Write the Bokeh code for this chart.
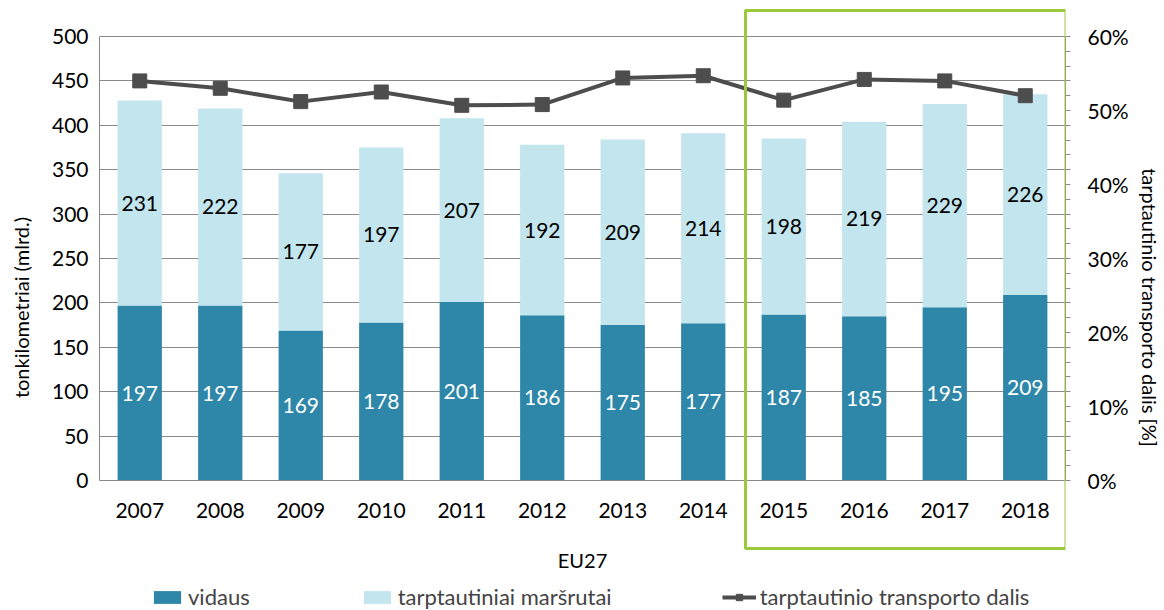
from bokeh.plotting import figure
from bokeh.models import (ColumnDataSource, Range1d, FactorRange, LinearAxis, FixedTicker,
                          PrintfTickFormatter, LabelSet, BoxAnnotation, Legend, LegendItem)
from bokeh.core.properties import value
from bokeh.embed import file_html
from bokeh.resources import INLINE

# ---- data ----
years = ["2007", "2008", "2009", "2010", "2011", "2012",
         "2013", "2014", "2015", "2016", "2017", "2018"]
vidaus = [197, 197, 169, 178, 201, 186, 175, 177, 187, 185, 195, 209]
tarptautiniai = [231, 222, 177, 197, 207, 192, 209, 214, 198, 219, 229, 226]
dalis = [54.0, 53.0, 51.2, 52.5, 50.7, 50.8, 54.4, 54.7, 51.4, 54.2, 54.0, 52.0]
left_ticks = [0, 50, 100, 150, 200, 250, 300, 350, 400, 450, 500]
right_ticks = [0, 10, 20, 30, 40, 50, 60]
right_minor = [2, 4, 6, 8, 12, 14, 16, 18, 22, 24, 26, 28, 32, 34, 36, 38,
               42, 44, 46, 48, 52, 54, 56, 58]
x_label = "EU27"
y_label = "tonkilometriai (mlrd.)"
y2_label = "tarptautinio transporto dalis [%]"
names = ["vidaus", "tarptautiniai maršrutai", "tarptautinio transporto dalis"]

# ---- layout / style ----
FONT = "Lato"
DARK = "#2E87A8"
LIGHT = "#C3E5ED"
LINEC = "#4D4D4D"
GRID = "#8A8A8A"
GREEN = "#9ACA3C"
TICK_FS = "21px"
LABEL_FS = "20px"

W, H = 1164, 610
LEFT, RIGHT = 99, 1067          # plot area edges (px)
TOP_FRAME, BOTTOM_FRAME = 4, 610  # drawing frame (px)
Y_TOP_PX, Y_ZERO_PX = 36, 480   # where 500 and 0 lie (px)
Y_MAX, P_MAX = 500.0, 60.0
ppu = (Y_ZERO_PX - Y_TOP_PX) / Y_MAX
y_start = -(BOTTOM_FRAME - Y_ZERO_PX) / ppu
y_end = Y_MAX + (Y_TOP_PX - TOP_FRAME) / ppu
k = P_MAX / Y_MAX

src = ColumnDataSource(dict(
    year=years,
    vidaus=vidaus,
    tarpt=tarptautiniai,
    dalis=dalis,
    mid_v=[v / 2 for v in vidaus],
    mid_t=[v + t / 2 for v, t in zip(vidaus, tarptautiniai)],
    txt_v=[str(v) for v in vidaus],
    txt_t=[str(t) for t in tarptautiniai],
))

p = figure(x_range=FactorRange(*years, range_padding=0),
           y_range=Range1d(y_start, y_end), width=W, height=H,
           output_backend="svg", toolbar_location=None,
           min_border_left=LEFT, min_border_right=W - RIGHT,
           min_border_top=TOP_FRAME, min_border_bottom=H - BOTTOM_FRAME)
p.outline_line_color = None
p.background_fill_color = "white"
p.border_fill_color = "white"

bars = p.vbar_stack(["vidaus", "tarpt"], x="year", width=0.55,
                    color=[DARK, LIGHT], line_color=None, source=src)

p.extra_y_ranges = {"pct": Range1d(y_start * k, y_end * k)}
ln = p.line("year", "dalis", source=src, y_range_name="pct",
            line_color=LINEC, line_width=4)
mk = p.scatter("year", "dalis", source=src, y_range_name="pct",
               marker="square", size=14, fill_color=LINEC, line_color=LINEC)

# value labels
p.add_layout(LabelSet(x="year", y="mid_v", text="txt_v", source=src,
                      text_align="center", text_baseline="middle",
                      text_color="white", text_font=value(FONT),
                      text_font_size=TICK_FS))
p.add_layout(LabelSet(x="year", y="mid_t", text="txt_t", source=src,
                      text_align="center", text_baseline="middle",
                      text_color="black", text_font=value(FONT),
                      text_font_size=TICK_FS))

# left axis
ya = p.yaxis[0]
ya.ticker = FixedTicker(ticks=left_ticks)
ya.bounds = (0, Y_MAX)
ya.axis_label = y_label
ya.major_tick_out = 0
ya.major_tick_in = 0
ya.minor_tick_out = 0
ya.minor_tick_in = 0
ya.major_label_standoff = 11
ya.axis_label_standoff = 16

# x axis at y = 0
xa = p.xaxis[0]
xa.fixed_location = 0
xa.axis_label = x_label
xa.major_tick_out = 0
xa.major_tick_in = 0
xa.major_label_standoff = 22
xa.axis_label_standoff = 27

# right axis
ra = LinearAxis(y_range_name="pct",
                ticker=FixedTicker(ticks=right_ticks, minor_ticks=right_minor),
                formatter=PrintfTickFormatter(format="%d%%"),
                axis_label=y2_label, bounds=(0, P_MAX))
ra.major_tick_out = 5
ra.major_tick_in = 0
ra.minor_tick_out = 5
ra.minor_tick_in = 0
ra.major_label_standoff = 17
ra.axis_label_standoff = 6
p.add_layout(ra, "right")

for ax in [ya, xa, ra]:
    ax.axis_line_color = GRID
    ax.major_tick_line_color = GRID
    ax.minor_tick_line_color = GRID
    ax.major_label_text_font = FONT
    ax.major_label_text_font_size = TICK_FS
    ax.major_label_text_color = "black"
    ax.axis_label_text_font = FONT
    ax.axis_label_text_font_size = LABEL_FS
    ax.axis_label_text_font_style = "normal"
    ax.axis_label_text_color = "black"

p.xgrid.grid_line_color = None
p.ygrid.grid_line_color = GRID
p.ygrid.ticker = FixedTicker(ticks=left_ticks)

# highlight box 2015-2018
p.add_layout(BoxAnnotation(left=745, right=1065.5, top=10, bottom=548,
                           left_units="canvas", right_units="canvas",
                           top_units="canvas", bottom_units="canvas",
                           fill_alpha=0, line_color=GREEN, line_alpha=1.0,
                           line_width=3, level="overlay"))

legend = Legend(items=[LegendItem(label=names[0], renderers=[bars[0]]),
                       LegendItem(label=names[1], renderers=[bars[1]]),
                       LegendItem(label=names[2], renderers=[ln, mk])],
                orientation="horizontal", location=(51, 0),
                spacing=110, glyph_width=34, glyph_height=16,
                label_standoff=4, padding=0, margin=0,
                label_text_font=FONT, label_text_font_size="22px",
                background_fill_alpha=0, border_line_color=None)
p.add_layout(legend, "center")

open("out.html", "w").write(file_html(p, INLINE))
